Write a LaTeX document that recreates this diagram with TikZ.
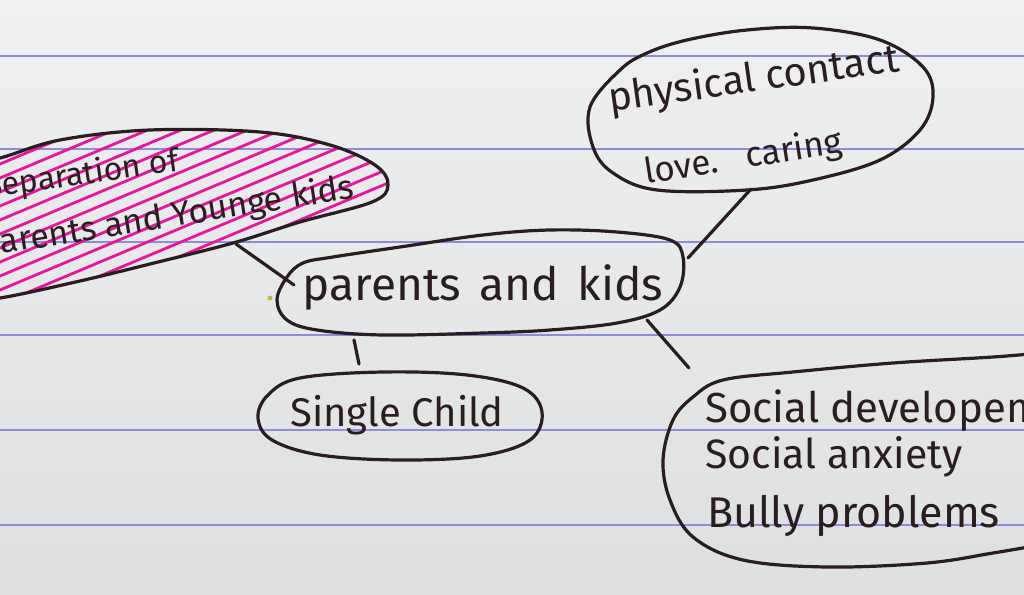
\documentclass[tikz,border=0pt]{standalone}
\usepackage{fontspec}
\setmainfont{Fira Sans}
\definecolor{ink}{HTML}{2A1D22}
\definecolor{rulecol}{HTML}{8C8CD8}
\definecolor{marker}{HTML}{E5179C}
\definecolor{paperTop}{HTML}{EFF0F2}
\definecolor{paperBot}{HTML}{DDDFE1}
\definecolor{speck}{HTML}{C9B24A}
\begin{document}
\begin{tikzpicture}[x=1pt,y=-1pt,
  pen/.style={draw=ink, line width=3.2pt, line cap=round, line join=round},
  rule/.style={draw=rulecol, line width=1.3pt},
  hatch/.style={draw=marker, line width=2.8pt, line cap=round},
  word/.style={text=ink, inner sep=0pt}]
\useasboundingbox (0,0) rectangle (1024,594);
\clip (0,0) rectangle (1024,594);

% paper and ruling
\shade[top color=paperTop, bottom color=paperBot] (0,0) rectangle (1024,594);
\foreach \y in {56,149,242,335,430,525}
  \draw[rule] (0,\y) -- (1024,\y);
\fill[speck] (270,298) circle (2.5);

% highlighted bubble with hatching
\begin{scope}
  \clip plot[smooth cycle, tension=0.6] coordinates {(-40,165) (0,158) (60,140) (150,130) (260,132) (330,145) (375,165) (388,185) (372,202) (300,222) (233,243) (150,264) (80,281) (0,298) (-40,300)};
  \foreach \c in {136,150,...,480}
    \draw[hatch] (-10,\c+4.2) -- (400,\c-168);
\end{scope}
\draw[pen] plot[smooth cycle, tension=0.6] coordinates {(-40,165) (0,158) (60,140) (150,130) (260,132) (330,145) (375,165) (388,185) (372,202) (300,222) (233,243) (150,264) (80,281) (0,298) (-40,300)};

% other bubbles
\draw[pen] plot[smooth cycle, tension=0.6] coordinates {(620,70) (647,53) (687,40) (747,30) (813,28) (880,40) (923,67) (933,97) (920,130) (880,160) (813,180) (747,190) (657,190) (613,173) (593,147) (590,107)};
\draw[pen] plot[smooth cycle, tension=0.6] coordinates {(303,263) (333,257) (400,247) (483,235) (550,230) (617,232) (670,240) (683,257) (680,287) (660,310) (617,323) (550,330) (483,333) (383,335) (317,330) (287,320) (277,300) (287,277)};
\draw[pen] plot[smooth cycle, tension=0.6] coordinates {(300,378) (383,372) (467,375) (523,388) (542,412) (530,440) (480,456) (400,460) (320,455) (272,440) (258,418) (268,395)};
\draw[pen] plot[smooth, tension=0.6] coordinates {(1040,353) (993,357) (893,363) (793,372) (723,380) (693,397) (673,420) (663,460) (670,500) (693,537) (743,560) (827,567) (927,563) (993,553) (1040,545)};

% texts
\node[word, anchor=base west, rotate=8, font=\fontsize{32}{36}\selectfont] (sepA) at (-14,198) {Separation of};
\node[word, anchor=base west, rotate=9, font=\fontsize{34}{38}\selectfont] (sepB) at (-18,257) {parents and Younge kids};
\node[word, anchor=base west, rotate=8, font=\fontsize{40}{44}\selectfont] (phys) at (610,112) {physical contact};
\node[word, anchor=base west, rotate=9, font=\fontsize{35}{38}\selectfont] (love) at (646,184) {love.\hspace{0.8em}caring};
\node[word, anchor=base, font=\fontsize{46}{50}\selectfont] (pk) at (483,300) {parents\hspace{0.4em}and\hspace{0.4em}kids};
\node[word, anchor=base, font=\fontsize{40}{44}\selectfont] (single) at (397,426) {Single Child};
\node[word, anchor=base west, font=\fontsize{42}{44}\selectfont] (socA) at (705,422) {Social developement};
\node[word, anchor=base west, font=\fontsize{41}{44}\selectfont] (socB) at (705,468) {Social anxiety};
\node[word, anchor=base west, font=\fontsize{43}{44}\selectfont] (socC) at (707,527) {Bully problems};

% connector ends on the bubble outlines
\coordinate (sepEnd) at (236,244);
\coordinate (pkNW) at (294,285);
\coordinate (pkNE) at (688,258);
\coordinate (physEnd) at (751,189);
\coordinate (pkS) at (354,340);
\coordinate (singleEnd) at (359,364);
\coordinate (pkSE) at (647,320);
\coordinate (socEnd) at (689,368);

\draw[pen] (sepEnd) -- (pkNW);
\draw[pen] (pkNE) -- (physEnd);
\draw[pen] (pkS) -- (singleEnd);
\draw[pen] (pkSE) -- (socEnd);
\end{tikzpicture}
\end{document}
